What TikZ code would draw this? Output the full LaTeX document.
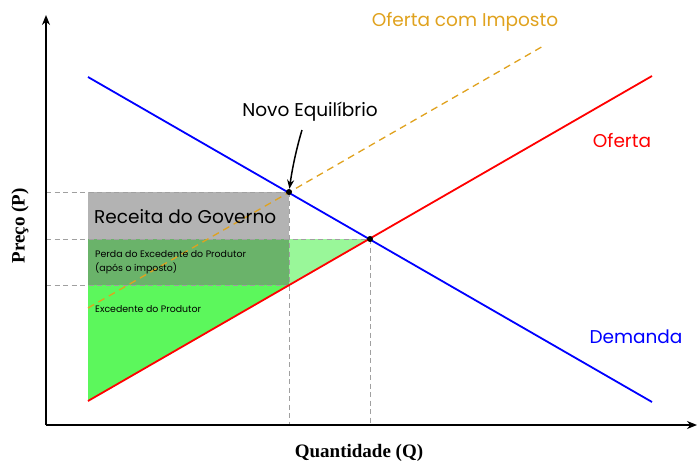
\documentclass[tikz,border=0pt]{standalone}
\usepackage{fontspec}
\setmainfont{Poppins}
\newfontfamily\axisfont{Liberation Serif}
\usetikzlibrary{arrows.meta}
\definecolor{taxorange}{HTML}{E0A21E}
\definecolor{revgray}{HTML}{B3B3B3}
\definecolor{lossgreen}{HTML}{6AB36A}
\definecolor{dwlgreen}{HTML}{99F799}
\definecolor{psgreen}{HTML}{5CF75C}
\definecolor{guidegray}{HTML}{A0A0A0}
\tikzset{
  curve/.style={line width=1.8pt},
  axis/.style={line width=1.7pt,-{Stealth[length=10pt,width=8pt]}},
  guide/.style={guidegray,line width=0.9pt,dash pattern=on 5pt off 3.5pt},
  lbl/.style={inner sep=0pt},
  big/.style={font=\fontsize{18.5}{22}\selectfont},
  small/.style={font=\fontsize{9.4}{14}\selectfont},
  axlbl/.style={font=\axisfont\bfseries\fontsize{19}{22}\selectfont},
  dot/.style={circle,fill=black,inner sep=0pt,minimum size=6pt},
}
\begin{document}
\begin{tikzpicture}[x=1pt,y=-1pt]
\useasboundingbox (0,0) rectangle (697,463);
% key points
\coordinate (O) at (46,425);
\coordinate (Ytop) at (46,15);
\coordinate (Xend) at (697,425);
\coordinate (D1) at (88,77);
\coordinate (D2) at (652,402);
\coordinate (S1) at (88,401);
\coordinate (S2) at (652,76);
\coordinate (T1) at (88,308);
\coordinate (T2) at (545,45);
\coordinate (NE) at (289,192);
\coordinate (E) at (370,239);
\coordinate (PS) at (289,285);
% areas
\fill[revgray] (88,192) rectangle (289,239);
\fill[lossgreen] (88,239) rectangle (289,285);
\fill[dwlgreen] (289,239) -- (E) -- (PS) -- cycle;
\fill[psgreen] (88,285) -- (PS) -- (S1) -- cycle;
% guides
\draw[guide] (46,192) -- (NE);
\draw[guide] (46,239) -- (E);
\draw[guide] (46,285) -- (PS);
\draw[guide] (NE) -- (289,425);
\draw[guide] (E) -- (370,425);
% curves
\draw[taxorange,line width=1.3pt,dash pattern=on 7pt off 5pt] (T1) -- (T2);
\draw[curve,blue] (D1) -- (D2);
\draw[curve,red] (S1) -- (S2);
% axes
\draw[axis] (O) -- (Ytop);
\draw[axis] (O) -- (Xend);
% dots
\node[dot] (ne) at (NE) {};
\node[dot] (e) at (E) {};
% labels
\node[lbl,big,taxorange] (lt) at (465,22) {Oferta com Imposto};
\node[lbl,big] (lne) at (310,112) {Novo Equilíbrio};
\node[lbl,big,red] (ls) at (622,141) {Oferta};
\node[lbl,big,blue] (ld) at (636,337) {Demanda};
\node[lbl,big,anchor=west] (lr) at (94,217) {Receita do Governo};
\node[lbl,small,anchor=west,align=left] (lp) at (95,262) {Perda do Excedente do Produtor\\(após o imposto)};
\node[lbl,small,anchor=west] (lx) at (95,309) {Excedente do Produtor};
\node[lbl,axlbl,rotate=90] (py) at (20,226) {Preço (P)};
\node[lbl,axlbl] (qx) at (359,453) {Quantidade (Q)};
% arrow
\draw[line width=1.5pt,-{Stealth[length=9pt,width=7pt]}] (302,130) .. controls (296,150) and (292,170) .. (ne);
\end{tikzpicture}
\end{document}
